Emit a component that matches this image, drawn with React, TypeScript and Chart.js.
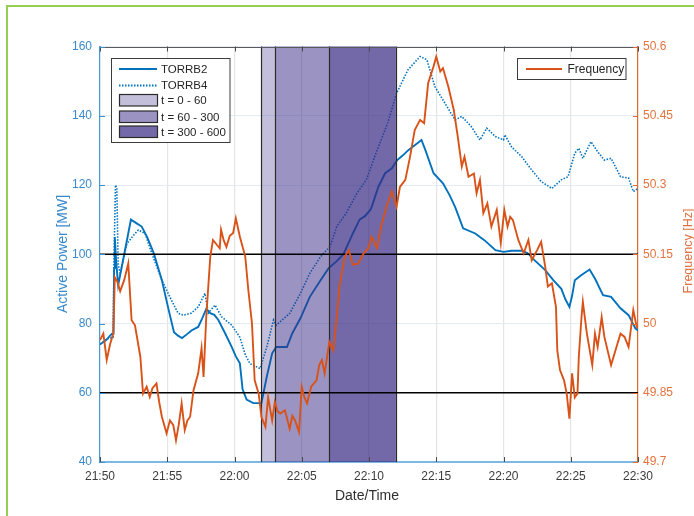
import React, { useEffect, useRef } from "react";
import { Chart, registerables } from "chart.js";

Chart.register(...registerables);

// ---- data (minutes after 21:50) ----
const X_TICKS = [0, 5, 10, 15, 20, 25, 30, 35, 40];
const X_TICK_LABELS = ["21:50", "21:55", "22:00", "22:05", "22:10", "22:15", "22:20", "22:25", "22:30"];
const MW_TICKS = [40, 60, 80, 100, 120, 140, 160];
const HZ_TICKS = [49.7, 49.85, 50, 50.15, 50.3, 50.45, 50.6];
const HZ_TICK_LABELS = ["49.7", "49.85", "50", "50.15", "50.3", "50.45", "50.6"];
const LIMIT_LINES_MW = [60, 100];

const PERIOD_START = [12, 13, 17];
const PERIOD_END = [13, 17, 22];
const PERIOD_LABELS = ["t = 0 - 60", "t = 60 - 300", "t = 300 - 600"];
const PERIOD_ALPHA = [0.3, 0.5, 0.7];

const TORRB2_T = [0, 0.4, 0.87, 1.0, 1.05, 1.1, 1.2, 1.35, 1.6, 1.85, 2.1, 2.3, 2.7, 3.1, 3.5, 4.0, 4.6, 5.1, 5.5, 5.8, 6.1, 6.5, 6.8, 7.3, 7.6, 7.9, 8.2, 8.5, 8.8, 9.3, 9.8, 10.1, 10.4, 10.6, 10.9, 11.4, 12.0, 12.4, 12.8, 13.1, 13.9, 14.3, 14.9, 15.6, 16.4, 17.0, 17.6, 18.1, 18.8, 19.3, 19.7, 20.1, 20.2, 20.7, 21.2, 21.7, 22.1, 22.5, 22.9, 23.4, 23.9, 24.2, 24.8, 25.5, 26.0, 26.4, 27.0, 27.9, 28.6, 29.4, 30.0, 30.6, 31.4, 31.8, 32.3, 33.1, 33.7, 34.3, 34.6, 34.9, 35.1, 35.3, 35.8, 36.4, 36.8, 37.4, 38.0, 38.7, 39.3, 39.8, 40];
const TORRB2_MW = [74, 75, 77, 77, 96, 105, 98, 91, 96, 101, 106, 110, 109, 108, 105, 100.3, 92.5, 84, 77.5, 76.5, 75.8, 77, 78, 79, 81.5, 84.2, 83, 82.5, 81, 77.2, 73.2, 70.5, 68.5, 61, 58, 57, 57, 64.6, 71.4, 73.2, 73.2, 77.2, 81.5, 87.7, 92.5, 96, 98, 100, 106, 110, 111, 112.8, 113.7, 119.5, 123.4, 124.8, 127.2, 128.5, 130, 131.5, 133, 130, 123.4, 120.5, 117, 113.7, 107.5, 106, 104, 101.2, 100.7, 101, 101, 100.3, 98.3, 95.4, 92.5, 90, 87, 84.8, 88, 92.5, 94, 95.6, 93, 88.2, 87.7, 84.4, 82.4, 78.6, 78];

const TORRB4_T = [0, 0.5, 0.97, 1.05, 1.15, 1.25, 1.35, 1.5, 2.0, 2.5, 2.85, 3.35, 3.85, 4.6, 5.3, 5.8, 6.2, 6.8, 7.3, 7.8, 8.05, 8.55, 9.05, 9.8, 10.4, 10.8, 11.15, 11.9, 12.4, 12.9, 13.1, 14.1, 14.9, 15.6, 16.4, 17.1, 17.6, 18.3, 19.1, 19.8, 20.5, 21.4, 22.05, 22.9, 23.8, 24.3, 24.9, 25.65, 26.4, 26.9, 27.6, 28.25, 28.75, 29.4, 30.0, 30.1, 30.6, 31.35, 32.1, 32.8, 33.6, 34.3, 34.8, 35.3, 35.6, 35.9, 36.5, 37.0, 37.5, 38.0, 38.7, 39.3, 39.65, 40];
const TORRB4_MW = [74, 75.5, 76, 100, 120, 119, 97, 94.5, 103, 105.5, 107, 106, 100.3, 92.5, 86.8, 83, 82.4, 83, 84.8, 88.7, 83, 85.3, 81.9, 79.5, 76, 71, 68.4, 67, 73.2, 81, 79.5, 82.9, 88.7, 94.5, 99.3, 102.2, 108, 111.8, 117.6, 121.5, 129, 138, 146.5, 153.3, 157.1, 156.2, 148.4, 143.6, 138.8, 139.8, 136.9, 133, 136.4, 134, 133, 134.5, 131, 128.2, 124.3, 121, 119, 121.5, 122.4, 129.2, 130.6, 127.7, 132.5, 129.6, 127.2, 127.7, 122.4, 122, 118.1, 119];

const FREQ_T = [0, 0.25, 0.5, 0.75, 1.0, 1.1, 1.3, 1.5, 1.8, 2.1, 2.35, 2.6, 3.0, 3.2, 3.47, 3.7, 3.9, 4.2, 4.4, 4.6, 4.95, 5.2, 5.45, 5.65, 5.85, 6.07, 6.3, 6.5, 6.7, 6.95, 7.3, 7.55, 7.7, 7.9, 8.2, 8.4, 8.7, 8.9, 9.0, 9.2, 9.4, 9.65, 9.9, 10.1, 10.4, 10.8, 11.03, 11.3, 11.5, 11.8, 12.0, 12.3, 12.5, 12.8, 13.0, 13.2, 13.4, 13.75, 14.1, 14.3, 14.5, 14.8, 15.0, 15.2, 15.4, 15.7, 16.1, 16.3, 16.5, 16.7, 17.05, 17.35, 17.6, 17.8, 18.2, 18.5, 18.8, 19.2, 19.6, 19.95, 20.2, 20.6, 20.9, 21.3, 21.7, 22.05, 22.3, 22.7, 23.05, 23.4, 23.8, 24.1, 24.4, 24.8, 25.0, 25.3, 25.5, 25.9, 26.3, 26.6, 26.9, 27.1, 27.4, 27.8, 28.0, 28.25, 28.5, 28.8, 29.1, 29.5, 29.8, 30.06, 30.3, 30.5, 30.7, 31.1, 31.5, 31.85, 32.1, 32.5, 32.8, 33.1, 33.3, 33.6, 33.9, 34.0, 34.2, 34.5, 34.7, 34.9, 35.1, 35.3, 35.5, 35.6, 35.8, 35.9, 36.2, 36.6, 36.8, 37.0, 37.3, 37.5, 38.0, 38.4, 38.7, 39.0, 39.3, 39.65, 39.9, 40];
const FREQ_HZ = [49.964, 49.978, 49.921, 49.955, 49.98, 50.1, 50.09, 50.07, 50.094, 50.13, 50.007, 49.996, 49.928, 49.848, 49.863, 49.841, 49.86, 49.87, 49.83, 49.798, 49.762, 49.79, 49.78, 49.747, 49.78, 49.827, 49.769, 49.79, 49.798, 49.855, 49.892, 49.946, 49.884, 50.014, 50.145, 50.181, 50.17, 50.163, 50.203, 50.18, 50.166, 50.19, 50.196, 50.228, 50.188, 50.145, 50.072, 50.0, 49.877, 49.848, 49.798, 49.776, 49.84, 49.79, 49.83, 49.81, 49.805, 49.812, 49.772, 49.8, 49.79, 49.765, 49.863, 49.84, 49.827, 49.863, 49.877, 49.91, 49.921, 49.892, 49.96, 49.942, 50.014, 50.08, 50.145, 50.159, 50.127, 50.13, 50.152, 50.163, 50.188, 50.163, 50.21, 50.253, 50.286, 50.253, 50.296, 50.311, 50.361, 50.419, 50.441, 50.434, 50.521, 50.557, 50.578, 50.546, 50.553, 50.513, 50.463, 50.405, 50.34, 50.361, 50.318, 50.325, 50.282, 50.311, 50.239, 50.26, 50.21, 50.246, 50.174, 50.246, 50.21, 50.231, 50.224, 50.181, 50.152, 50.181, 50.137, 50.159, 50.177, 50.123, 50.08, 50.087, 50.036, 49.942, 49.899, 49.877, 49.848, 49.794, 49.892, 49.84, 49.848, 49.928, 50.014, 50.047, 49.978, 49.91, 49.978, 49.949, 50.014, 49.971, 49.91, 49.949, 49.978, 49.971, 49.949, 50.029, 49.993, 49.99];

// ---- styling ----
const FONT = "'Liberation Sans', Arial, Helvetica, sans-serif";
const BLUE = "#0072BD";
const ORANGE = "#D95319";
const PATCH_RGB = "55,42,133";

const zip = (xs: number[], ys: number[]) => xs.map((x, i) => ({ x, y: ys[i] }));

const overlayPlugin = {
  id: "overlay",
  beforeDatasetDraw(chart: any, args: any) {
    if (args.index !== 2) return;
    const { ctx, chartArea } = chart;
    const xs = chart.scales.x;
    const ys = chart.scales.y;
    ctx.save();
    for (let i = 0; i < PERIOD_START.length; i++) {
      const x0 = xs.getPixelForValue(PERIOD_START[i]);
      const x1 = xs.getPixelForValue(PERIOD_END[i]);
      ctx.fillStyle = `rgba(${PATCH_RGB},${PERIOD_ALPHA[i]})`;
      ctx.fillRect(x0, chartArea.top, x1 - x0, chartArea.bottom - chartArea.top);
    }
    ctx.strokeStyle = "#2b2b2b";
    ctx.lineWidth = 1.2;
    const edges = [PERIOD_START[0], ...PERIOD_END];
    for (const e of edges) {
      const x = Math.round(xs.getPixelForValue(e)) + 0.5;
      ctx.beginPath();
      ctx.moveTo(x, chartArea.top);
      ctx.lineTo(x, chartArea.bottom);
      ctx.stroke();
    }
    ctx.strokeStyle = "#000";
    ctx.lineWidth = 1.6;
    for (const v of LIMIT_LINES_MW) {
      const y = ys.getPixelForValue(v);
      ctx.beginPath();
      ctx.moveTo(chartArea.left, y);
      ctx.lineTo(chartArea.right, y);
      ctx.stroke();
    }
    ctx.restore();
  },
  afterDraw(chart: any) {
    const { ctx, chartArea } = chart;
    const { left, right, top, bottom } = chartArea;
    const xs = chart.scales.x;
    const ys = chart.scales.y;
    const yr = chart.scales.y1;
    ctx.save();
    // top frame
    ctx.strokeStyle = "#5a5a5a";
    ctx.lineWidth = 1;
    ctx.beginPath();
    ctx.moveTo(left, Math.round(top) + 0.5);
    ctx.lineTo(right, Math.round(top) + 0.5);
    ctx.stroke();
    // inward ticks
    const TL = 5;
    ctx.strokeStyle = "#4a4a4a";
    for (const v of X_TICKS) {
      const x = Math.round(xs.getPixelForValue(v)) + 0.5;
      ctx.beginPath();
      ctx.moveTo(x, bottom);
      ctx.lineTo(x, bottom - TL);
      ctx.moveTo(x, top);
      ctx.lineTo(x, top + TL);
      ctx.stroke();
    }
    ctx.strokeStyle = "#3d8fd1";
    for (const v of MW_TICKS) {
      const y = Math.round(ys.getPixelForValue(v)) + 0.5;
      ctx.beginPath();
      ctx.moveTo(left, y);
      ctx.lineTo(left + TL, y);
      ctx.stroke();
    }
    ctx.strokeStyle = "#de6a33";
    for (const v of HZ_TICKS) {
      const y = Math.round(yr.getPixelForValue(v)) + 0.5;
      ctx.beginPath();
      ctx.moveTo(right, y);
      ctx.lineTo(right - TL, y);
      ctx.stroke();
    }
    // axis titles
    ctx.textBaseline = "alphabetic";
    ctx.textAlign = "center";
    ctx.font = `14px ${FONT}`;
    ctx.fillStyle = "#3a8acb";
    ctx.save();
    ctx.translate(66.5, 254);
    ctx.rotate(-Math.PI / 2);
    ctx.fillText("Active Power [MW]", 0, 0);
    ctx.restore();
    ctx.font = `12.5px ${FONT}`;
    ctx.fillStyle = "#e07040";
    ctx.save();
    ctx.translate(691.5, 251);
    ctx.rotate(-Math.PI / 2);
    ctx.fillText("Frequency [Hz]", 0, 0);
    ctx.restore();
    ctx.font = `14px ${FONT}`;
    ctx.fillStyle = "#303030";
    ctx.fillText("Date/Time", 367, 500);

    // left legend
    ctx.font = `11.5px ${FONT}`;
    ctx.textAlign = "left";
    ctx.textBaseline = "middle";
    ctx.fillStyle = "#fff";
    ctx.fillRect(111.5, 58.5, 118.5, 84);
    ctx.strokeStyle = "#3c3c3c";
    ctx.lineWidth = 1;
    ctx.strokeRect(111.5, 58.5, 118.5, 84);
    ctx.strokeStyle = BLUE;
    ctx.lineWidth = 1.8;
    ctx.beginPath();
    ctx.moveTo(119, 69);
    ctx.lineTo(157, 69);
    ctx.stroke();
    ctx.setLineDash([1.5, 1.5]);
    ctx.beginPath();
    ctx.moveTo(119, 85.5);
    ctx.lineTo(157, 85.5);
    ctx.stroke();
    ctx.setLineDash([]);
    ctx.fillStyle = "#262626";
    ctx.fillText("TORRB2", 161, 69.5);
    ctx.fillText("TORRB4", 161, 86);
    const patchY = [94.5, 111, 126];
    for (let i = 0; i < PERIOD_LABELS.length; i++) {
      ctx.fillStyle = `rgba(${PATCH_RGB},${PERIOD_ALPHA[i]})`;
      ctx.fillRect(119.5, patchY[i], 38, 11.5);
      ctx.strokeStyle = "#2b2b2b";
      ctx.lineWidth = 1.2;
      ctx.strokeRect(119.5, patchY[i], 38, 11.5);
      ctx.fillStyle = "#262626";
      ctx.fillText(PERIOD_LABELS[i], 161, patchY[i] + 6.5);
    }
    // right legend
    ctx.font = `12px ${FONT}`;
    ctx.fillStyle = "#fff";
    ctx.fillRect(517.5, 58.5, 108.5, 21);
    ctx.strokeStyle = "#3c3c3c";
    ctx.lineWidth = 1;
    ctx.strokeRect(517.5, 58.5, 108.5, 21);
    ctx.strokeStyle = ORANGE;
    ctx.lineWidth = 1.8;
    ctx.beginPath();
    ctx.moveTo(526, 69);
    ctx.lineTo(562, 69);
    ctx.stroke();
    ctx.fillStyle = "#262626";
    ctx.fillText("Frequency", 567.5, 69.5);
    ctx.restore();
  },
};

export default function App() {
  const ref = useRef<HTMLCanvasElement | null>(null);
  useEffect(() => {
    if (!ref.current) return;
    const chart = new Chart(ref.current, {
      type: "line",
      data: {
        datasets: [
          {
            label: "TORRB2",
            data: zip(TORRB2_T, TORRB2_MW),
            borderColor: BLUE,
            borderWidth: 1.9,
            pointRadius: 0,
            yAxisID: "y",
            order: 1,
          },
          {
            label: "TORRB4",
            data: zip(TORRB4_T, TORRB4_MW),
            borderColor: BLUE,
            borderWidth: 1.6,
            borderDash: [1.5, 1.5],
            pointRadius: 0,
            yAxisID: "y",
            order: 2,
          },
          {
            label: "Frequency",
            data: zip(FREQ_T, FREQ_HZ),
            borderColor: ORANGE,
            borderWidth: 1.9,
            pointRadius: 0,
            yAxisID: "y1",
            order: 0,
          },
        ],
      },
      options: {
        animation: false,
        responsive: false,
        devicePixelRatio: 1,
        parsing: false as any,
        layout: { padding: { top: 46.5, left: 0, right: 0, bottom: 0 } },
        plugins: { legend: { display: false }, tooltip: { enabled: false } },
        elements: { line: { tension: 0 } },
        scales: {
          x: {
            type: "linear",
            min: 0,
            max: 40,
            afterFit: (s: any) => { s.height = 54; },
            afterBuildTicks: (s: any) => { s.ticks = X_TICKS.map((v) => ({ value: v })); },
            ticks: {
              padding: 7,
              maxRotation: 0,
              autoSkip: false,
              color: "#3c3c3c",
              font: { family: FONT, size: 12 },
              callback: (v: any) => X_TICK_LABELS[X_TICKS.indexOf(Number(v))] ?? "",
            },
            grid: { color: "#e4e4e4", lineWidth: 1.2, drawTicks: false },
            border: { color: "#7db8e5", width: 2 },
          },
          y: {
            type: "linear",
            position: "left",
            min: 40,
            max: 160,
            afterFit: (s: any) => { s.width = 100; },
            afterBuildTicks: (s: any) => { s.ticks = MW_TICKS.map((v) => ({ value: v })); },
            ticks: {
              padding: 8,
              color: "#3a8acb",
              font: { family: FONT, size: 12 },
              callback: (v: any) => String(v),
            },
            grid: { color: "#e2ecf6", lineWidth: 1, drawTicks: false },
            border: { color: "#4a98d6", width: 1.2 },
          },
          y1: {
            type: "linear",
            position: "right",
            min: 49.7,
            max: 50.6,
            afterFit: (s: any) => { s.width = 56; },
            afterBuildTicks: (s: any) => { s.ticks = HZ_TICKS.map((v) => ({ value: v })); },
            ticks: {
              padding: 5,
              color: "#e3733f",
              font: { family: FONT, size: 12 },
              callback: (v: any) => HZ_TICK_LABELS[HZ_TICKS.indexOf(Number(v))] ?? "",
            },
            grid: { display: false, drawTicks: false },
            border: { color: "#de6a33", width: 1.2 },
          },
        },
      } as any,
      plugins: [overlayPlugin],
    });
    return () => chart.destroy();
  }, []);

  return (
    <div style={{ position: "absolute", left: 0, top: 0, width: 694, height: 516, background: "#fff", overflow: "hidden" }}>
      <canvas ref={ref} width={694} height={516} style={{ display: "block", width: 694, height: 516 }} />
      <div
        style={{
          position: "absolute",
          left: 6,
          top: 5,
          width: 700,
          height: 520,
          borderLeft: "2px solid #92D050",
          borderTop: "2px solid #92D050",
          pointerEvents: "none",
        }}
      />
    </div>
  );
}
